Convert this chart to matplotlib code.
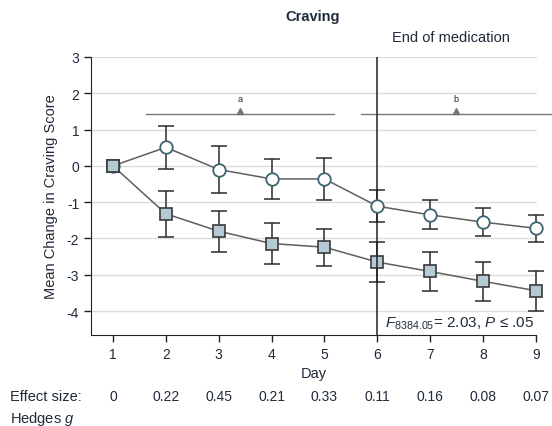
import matplotlib
matplotlib.use("Agg")
import matplotlib.pyplot as plt

# -----------------------------------
# Data
# -----------------------------------
days = [1, 2, 3, 4, 5, 6, 7, 8, 9]
circle_mean = [0, 0.51, -0.10, -0.36, -0.36, -1.11, -1.35, -1.55, -1.72]
circle_err = [0, 0.60, 0.65, 0.54, 0.58, 0.45, 0.40, 0.39, 0.37]
square_mean = [0, -1.32, -1.80, -2.14, -2.24, -2.65, -2.91, -3.18, -3.44]
square_err = [0, 0.64, 0.56, 0.57, 0.51, 0.55, 0.54, 0.53, 0.55]
effect_sizes = ["0", "0.22", "0.45", "0.21", "0.33", "0.11", "0.16", "0.08", "0.07"]
y_ticks = [-4, -3, -2, -1, 0, 1, 2, 3]

plt.rcParams["font.family"] = ["Liberation Sans", "DejaVu Sans"]
plt.rcParams["font.size"] = 9
plt.rcParams["mathtext.fontset"] = "custom"
plt.rcParams["mathtext.it"] = "Liberation Sans:italic"
plt.rcParams["mathtext.rm"] = "Liberation Sans"

ink = "#1f2a3a"
fig = plt.figure(figsize=(5.52, 4.27), dpi=100)
ax = fig.add_axes([0.1649, 0.2131, 0.8079, 0.6511])

# grid
for yv in y_ticks:
    ax.axhline(yv, color="#dcdcdc", lw=1.0, zorder=0)

# series
for mean, err in [(circle_mean, circle_err), (square_mean, square_err)]:
    eb = ax.errorbar(days[1:], mean[1:], yerr=err[1:], fmt="none",
                     ecolor="#2b2b2b", elinewidth=1.1, capsize=5.8, capthick=1.1, zorder=2)
    for art in eb.lines[1] + eb.lines[2]:
        art.set_clip_on(False)
ax.plot(days, circle_mean, color="#5e5e5e", lw=1.1, marker="o", ms=9,
        mfc="white", mec="#3d6470", mew=1.3, zorder=4, clip_on=False)
ax.plot(days, square_mean, color="#5e5e5e", lw=1.1, marker="s", ms=8.5,
        mfc="#b4cbd3", mec="#3a3a3a", mew=1.2, zorder=3, clip_on=False)
ax.plot([1], [0], marker="s", ms=8.5, mfc="#b4cbd3", mec="#3a3a3a", mew=1.2, zorder=5)

# end of medication line
ax.axvline(6, color="#222222", lw=1.1, zorder=3)
ax.text(7.4, 3.35, "End of medication", ha="center", va="bottom", fontsize=10.5, color=ink)

# significance brackets
ax.plot([1.62, 5.19], [1.43, 1.43], color="#777777", lw=1.0, clip_on=False, zorder=1)
ax.plot([5.70, 9.28], [1.43, 1.43], color="#777777", lw=1.0, clip_on=False, zorder=1)
ax.plot([3.41, 7.49], [1.50, 1.50], ls="none", marker="^", ms=5, color="#777777", clip_on=False)
ax.text(3.41, 1.72, "a", ha="center", va="bottom", fontsize=6.5, color=ink)
ax.text(7.49, 1.72, "b", ha="center", va="bottom", fontsize=6.5, color=ink)

# F statistic
ax.text(8.97, -4.32, r"$F_{\mathrm{8384.05}}$= 2.03, $P$ ≤ .05", ha="right", va="center",
        fontsize=11, color=ink,
        bbox=dict(facecolor="white", edgecolor="none", pad=0.5), zorder=6)

# axes styling
ax.set_xlim(0.585, 9.02)
ax.set_ylim(-4.66, 3.0)
ax.set_xticks(days)
ax.set_yticks(y_ticks)
ax.set_yticklabels([str(v) for v in y_ticks])
for s in ["top", "right"]:
    ax.spines[s].set_visible(False)
ax.spines["left"].set_color("#222222")
ax.spines["bottom"].set_color("#222222")
ax.spines["bottom"].set_bounds(0.585, 9.0)
ax.tick_params(direction="out", length=5, width=1, colors="#222222", labelcolor=ink, labelsize=10)
ax.set_xlabel("Day", fontsize=10.5, color=ink, labelpad=4)
ax.set_ylabel("Mean Change in Craving Score", fontsize=10.5, color=ink, labelpad=6)

fig.text(313 / 552, 1 - 17 / 427, "Craving", ha="center", va="center", fontsize=10.5,
         fontweight="bold", color=ink)

# effect size row
fig.text(10 / 552, 1 - 397 / 427, "Effect size:", ha="left", va="center", fontsize=10.5, color=ink)
fig.text(10 / 552, 1 - 419 / 427, "Hedges $g$", ha="left", va="center", fontsize=10.5, color=ink)
for d, es in zip(days, effect_sizes):
    ax.annotate(es, xy=(d, 0), xycoords=("data", "figure fraction"),
                xytext=(0, 1 - 397 / 427), textcoords=("offset points", "figure fraction"),
                ha="center", va="center", fontsize=10, color=ink)

fig.savefig("out.png", dpi=100)
